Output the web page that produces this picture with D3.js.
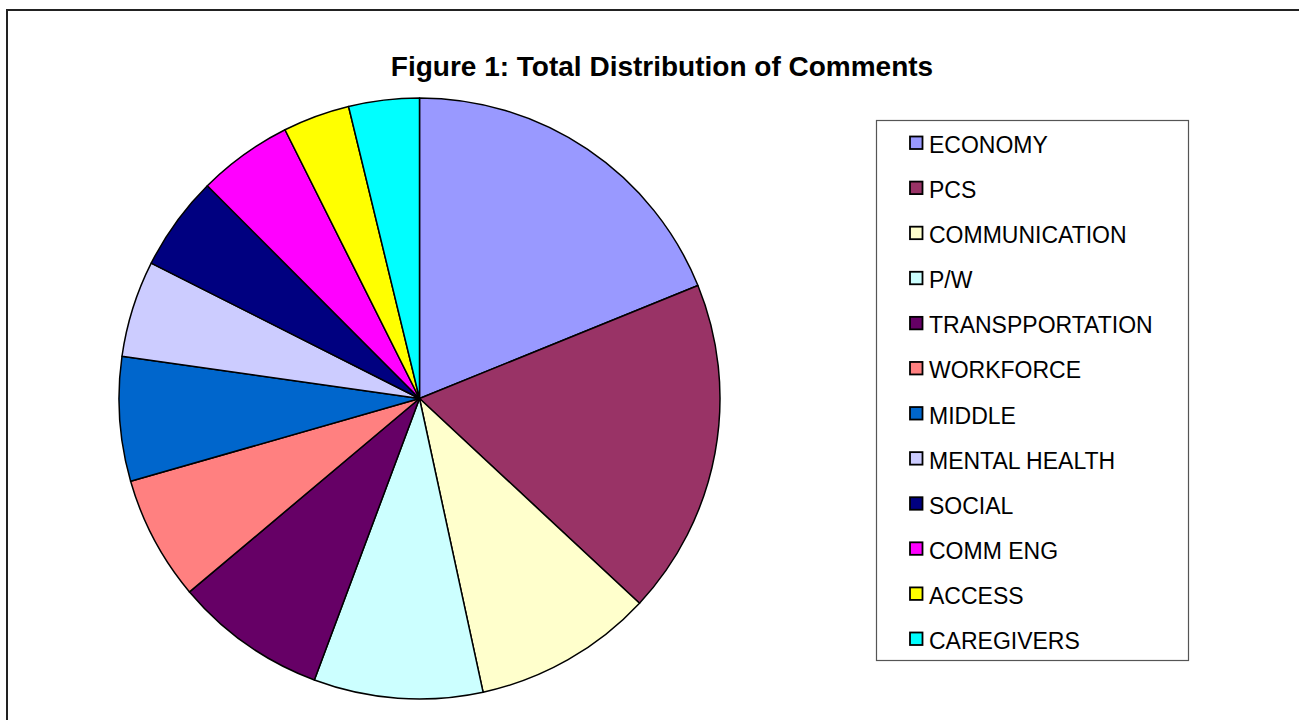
<!DOCTYPE html>
<html>
<head>
<meta charset="utf-8">
<script src="https://cdn.jsdelivr.net/npm/d3@7"></script>
<style>
  html, body { margin: 0; padding: 0; background: #fff; }
  svg { display: block; }
</style>
</head>
<body>
<svg id="chart" width="1299" height="720"></svg>
<script>
// Share of comments by topic (percent)
const categories = ["ECONOMY", "PCS", "COMMUNICATION", "P/W", "TRANSPPORTATION", "WORKFORCE",
  "MIDDLE", "MENTAL HEALTH", "SOCIAL", "COMM ENG", "ACCESS", "CAREGIVERS"];
const values = [18.9, 18.1, 9.7, 9.1, 8.2, 6.7, 6.7, 5.2, 5.1, 5.1, 3.6, 3.8];
const colors = ["#9999FF", "#993366", "#FFFFCC", "#CCFFFF", "#660066", "#FF8080",
  "#0066CC", "#CCCCFF", "#000080", "#FF00FF", "#FFFF00", "#00FFFF"];
const title = "Figure 1: Total Distribution of Comments";

const svg = d3.select("#chart");
const font = "'Liberation Sans', Arial, sans-serif";

// Outer chart frame (open on the right and bottom edges)
svg.append("rect")
  .attr("x", 7).attr("y", 10).attr("width", 1310).attr("height", 730)
  .attr("fill", "none").attr("stroke", "#222").attr("stroke-width", 2);

svg.append("text")
  .attr("x", 662).attr("y", 76)
  .attr("text-anchor", "middle")
  .attr("font-family", font).attr("font-weight", "bold").attr("font-size", 28)
  .text(title);

const color = d3.scaleOrdinal().domain(categories).range(colors);
const data = categories.map((c, i) => ({ name: c, value: values[i] }));

const pie = d3.pie().value(d => d.value).sort(null);
const arc = d3.arc().innerRadius(0).outerRadius(300.5);

const g = svg.append("g").attr("transform", "translate(419.5,398.5)");
g.selectAll("path")
  .data(pie(data))
  .join("path")
  .attr("d", arc)
  .attr("fill", d => color(d.data.name))
  .attr("stroke", "#000").attr("stroke-width", 1.5)
  .attr("stroke-linejoin", "round");

// Legend
const lg = svg.append("g");
lg.append("rect")
  .attr("x", 876.5).attr("y", 120.5).attr("width", 312).attr("height", 540)
  .attr("fill", "#fff").attr("stroke", "#555").attr("stroke-width", 1.2);

const y = d3.scalePoint().domain(categories).range([145, 641]);
const items = lg.selectAll("g.item").data(categories).join("g")
  .attr("class", "item")
  .attr("transform", d => `translate(0,${y(d)})`);
items.append("rect")
  .attr("x", 910).attr("y", -8.5).attr("width", 12.5).attr("height", 12.5)
  .attr("fill", d => color(d)).attr("stroke", "#000").attr("stroke-width", 1.8);
items.append("text")
  .attr("x", 929).attr("y", 8)
  .attr("font-family", font).attr("font-size", 23)
  .text(d => d);
</script>
</body>
</html>
